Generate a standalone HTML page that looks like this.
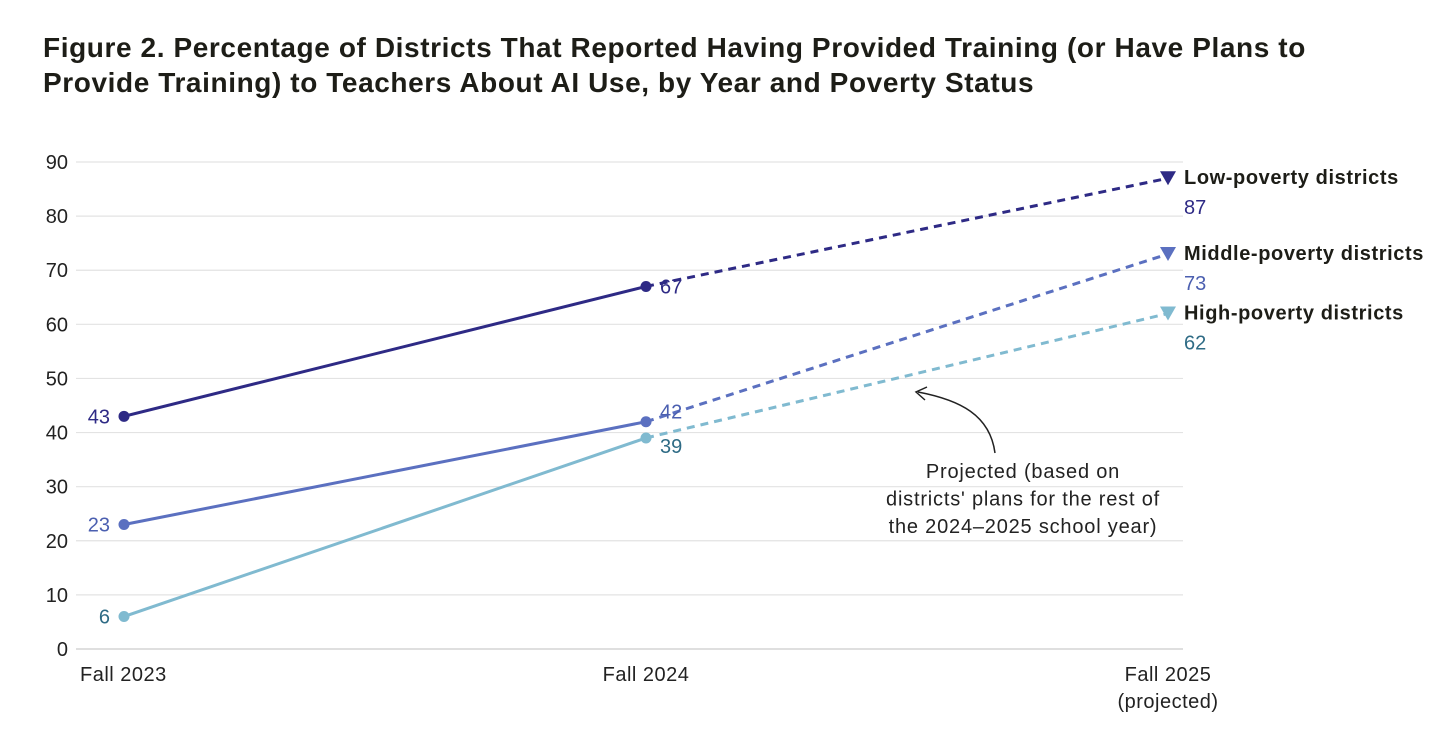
<!DOCTYPE html>
<html><head><meta charset="utf-8"><style>
body{margin:0;background:#fff;width:1456px;height:743px;overflow:hidden;font-family:"Liberation Sans",sans-serif}
h1{position:absolute;left:43px;top:30px;margin:0;font-size:28px;line-height:35px;font-weight:bold;color:#1d1d17;letter-spacing:0.6px;white-space:nowrap}
</style></head><body>
<h1>Figure 2. Percentage of Districts That Reported Having Provided Training (or Have Plans to<br>Provide Training) to Teachers About AI Use, by Year and Poverty Status</h1>
<svg id="c" width="1456" height="743" style="position:absolute;left:0;top:0"></svg>
<script>
const categories=["Fall 2023","Fall 2024","Fall 2025"];
const seriesNames=["Low-poverty districts","Middle-poverty districts","High-poverty districts"];
const lowVals=[43,67,87];
const midVals=[23,42,73];
const highVals=[6,39,62];
const yTicks=[0,10,20,30,40,50,60,70,80,90];
const NS="http://www.w3.org/2000/svg";
const svg=document.getElementById('c');
const xs=i=>124+i*522;
const ys=v=>649-v*(487/90);
function el(t,a,txt){const e=document.createElementNS(NS,t);for(const k in a)e.setAttribute(k,a[k]);if(txt!=null)e.textContent=txt;svg.appendChild(e);return e;}
yTicks.forEach(v=>{
 const g=el('line',{x1:76,x2:1183,y1:ys(v),y2:ys(v),stroke:v===0?'#ccc':'#e3e3e3','stroke-width':1.2});
 
 
 const t=el('text',{x:68,y:ys(v)+7,'text-anchor':'end','font-size':20,fill:'#222'},v);
 
 
});
categories.forEach((c,i)=>{
 const lines=i===2?[c,"(projected)"]:[c];
 lines.forEach((s,j)=>{
  const t=el('text',{x:i===0?80:xs(i),y:681+j*27,'text-anchor':i===0?'start':'middle','font-size':20,'letter-spacing':0.5,fill:'#222'},s);
  
  
 });
});
const series=[
 {v:lowVals,c:'#2e2a85',tc:'#2e2a85',name:'low',dy:7},
 {v:midVals,c:'#5b70c0',tc:'#4b5fb0',name:'middle',dy:-3},
 {v:highVals,c:'#80bad0',tc:'#2e6b85',name:'high',dy:15}];
series.forEach((s,k)=>{
 const l1=el('line',{x1:xs(0),y1:ys(s.v[0]),x2:xs(1),y2:ys(s.v[1]),stroke:s.c,'stroke-width':3});
 
 
 const l2=el('line',{x1:xs(1),y1:ys(s.v[1]),x2:xs(2),y2:ys(s.v[2]),stroke:s.c,'stroke-width':3,'stroke-dasharray':'8 6'});
 
 
 for(let i=0;i<2;i++){
  const p=el('circle',{cx:xs(i),cy:ys(s.v[i]),r:5.5,fill:s.c});
  
  
 }
 const x2=xs(2),y2=ys(s.v[2]);
 const tri=el('polygon',{points:`${x2-8},${y2-7} ${x2+8},${y2-7} ${x2},${y2+7}`,fill:s.c});
 
 
 const a=el('text',{x:110,y:ys(s.v[0])+7,'text-anchor':'end','font-size':20,fill:s.tc},s.v[0]);
 
 
 const b=el('text',{x:660,y:ys(s.v[1])+s.dy,'font-size':20,fill:s.tc},s.v[1]);
 
 
 const n=el('text',{x:1184,y:y2+6,'font-size':20,'font-weight':'bold','letter-spacing':0.6,fill:'#1d1d17'},seriesNames[k]);
 
 
 const v=el('text',{x:1184,y:y2+36,'font-size':20,fill:s.tc},s.v[2]);
 
 
});
const ar=el('path',{d:'M995,453 C990,415 960,400 918,392',fill:'none',stroke:'#222','stroke-width':1.5});


const ah=el('path',{d:'M927,387 L916,392 L925,400',fill:'none',stroke:'#222','stroke-width':1.5});


["Projected (based on","districts' plans for the rest of","the 2024\u20132025 school year)"].forEach((s,j)=>{
 const t=el('text',{x:1023,y:478+j*27.5,'text-anchor':'middle','font-size':20,'letter-spacing':0.8,fill:'#222'},s);
 
 
});
</script>
</body></html>
